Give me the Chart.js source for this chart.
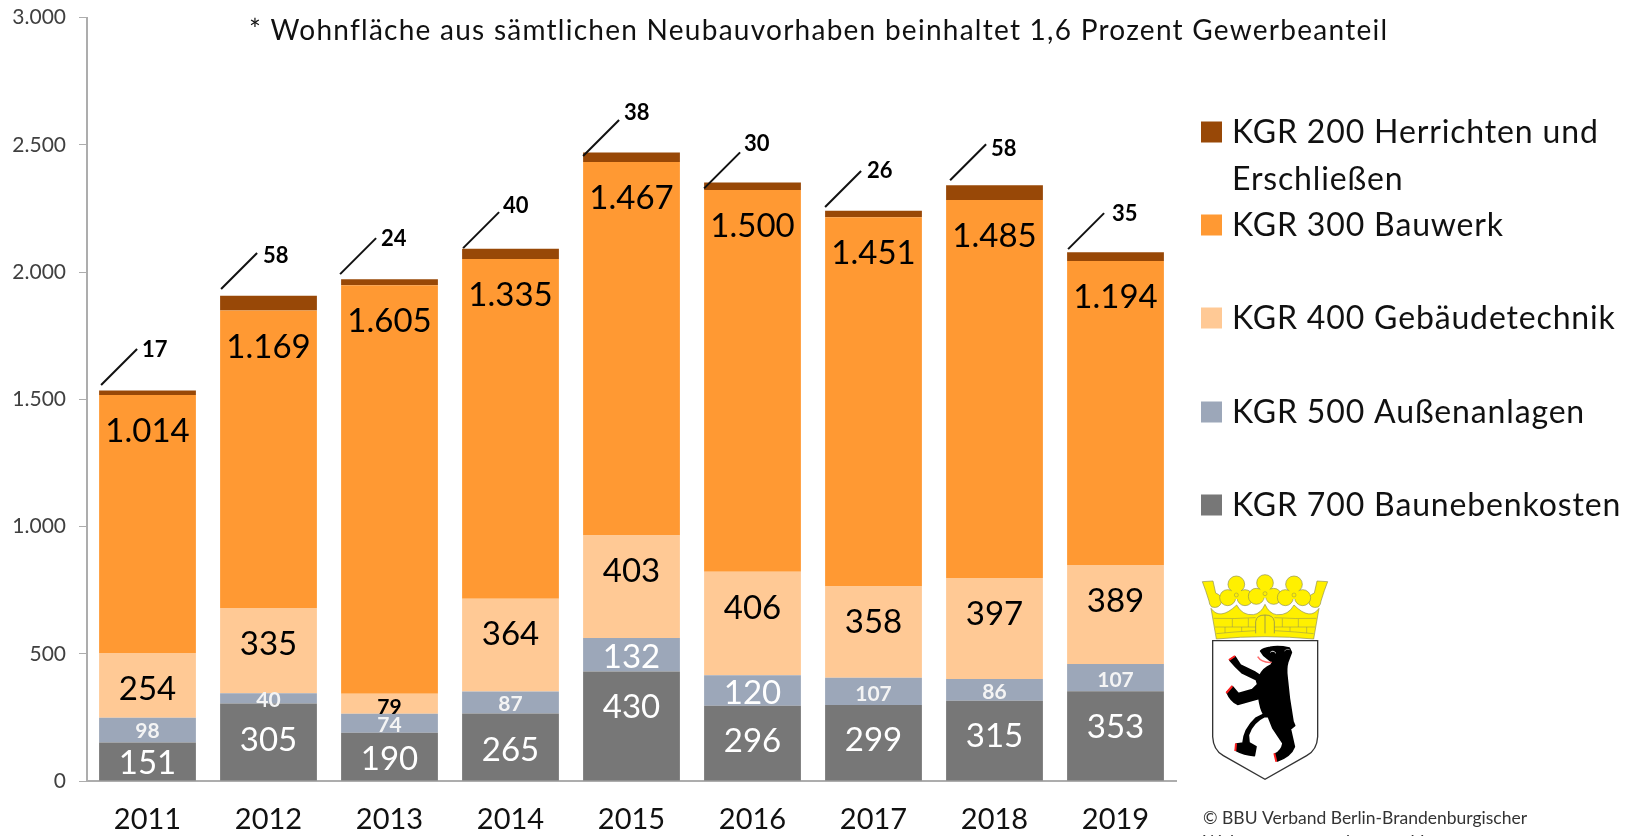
<!DOCTYPE html>
<html lang="de"><head><meta charset="utf-8">
<style>
html,body{margin:0;padding:0;background:#fff;overflow:hidden;width:1636px;height:836px}
#wrap{position:relative;width:1636px;height:836px}
canvas{display:block}
#arms{position:absolute;left:1195px;top:565px;filter:blur(.35px)}
</style>
<script src="https://cdn.jsdelivr.net/npm/chart.js@4"></script>
</head><body><div id="wrap"><canvas id="c" width="1636" height="836"></canvas>
<svg id="arms" width="150" height="220" viewBox="0 0 450 660" xmlns="http://www.w3.org/2000/svg">
<defs><g id="fl"><circle cx="0" cy="-30" r="25"/><circle cx="-26" cy="10" r="24"/><circle cx="26" cy="10" r="24"/><path d="M-14 -14 H14 V14 H-14Z" stroke="none"/><circle cx="0" cy="2" r="6" fill="none" stroke-width="1.5"/></g></defs>
<g stroke="#8f8f55" stroke-width="2" fill="#FFF000">
<path d="M22 50 L54 48 L62 84 Q82 92 80 110 Q74 132 50 126 Q42 118 42 108 Q32 75 22 50Z"/>
<path d="M398 50 L366 48 L358 84 Q338 92 340 110 Q346 132 370 126 Q378 118 378 108 Q388 75 398 50Z"/>
<use href="#fl" x="124" y="88"/><use href="#fl" x="210" y="84"/><use href="#fl" x="297" y="88"/>
<path d="M48 130 Q75 168 125 120 Q142 152 175 149 Q198 146 210 118 Q222 146 245 149 Q280 152 297 120 Q345 168 372 130 L356 222 Q210 208 64 222Z"/>
<path d="M56 160 Q120 162 182 158 M238 158 Q300 162 364 160 M60 186 H182 M238 186 H360 M64 206 Q120 200 182 197 M238 197 Q300 200 356 206 M112 162 V186 M160 160 V186 M90 186 V204 M140 186 V199 M262 160 V186 M310 162 V186 M285 186 V199 M335 186 V204" fill="none" stroke-width="1.6"/>
<path d="M182 205 V170 Q184 150 210 150 Q236 150 238 170 V205 M210 150 V205" fill="none" stroke-width="2.5"/>
</g>
<path d="M53 227 H368 V515 Q366 555 335 572 L210 643 L85 572 Q55 555 53 515Z" fill="#fff" stroke="#333" stroke-width="4"/>
<path fill="#000" stroke="#000" stroke-width="5" stroke-linejoin="round" d="M197 258 Q205 250 225 247 Q250 242 283 249 L289 262 Q283 278 278 292 Q273 310 276 335 L283 400 L294 470 L299 482 L286 492 L298 545 Q288 573 247 588 L240 567 Q260 558 264 535 L234 490 L220 455 L210 454 Q172 472 160 510 L162 533 L183 545 L178 572 Q147 570 122 556 L124 537 L144 534 Q147 492 182 460 L206 448 Q196 430 192 400 L128 418 Q107 408 96 382 L112 365 L130 386 L172 374 L188 358 L184 344 L142 324 Q120 305 104 285 L120 275 L136 300 L178 320 L195 331 Q205 310 228 300 L232 292 L207 272Z"/>
<path d="M102 285 L120 273 M94 384 L112 363 M121 558 L123 535 M244 590 L238 565" stroke="#ff2020" stroke-width="6" fill="none"/>
<path d="M188 275 Q200 294 230 292" stroke="#ff6a6a" stroke-width="4.5" fill="none"/>
<path d="M226 262 Q234 254 243 265" stroke="#ddd" stroke-width="3" fill="none"/>
<path d="M268 258 Q275 250 284 254" stroke="#999" stroke-width="2.5" fill="none"/>
</svg>
</div>
<script>
const categories=["2011","2012","2013","2014","2015","2016","2017","2018","2019"];
const kgr700=[151,305,190,265,430,296,299,315,353];
const kgr500=[98,40,74,87,132,120,107,86,107];
const kgr400=[254,335,79,364,403,406,358,397,389];
const kgr300=[1014,1169,1605,1335,1467,1500,1451,1485,1194];
const kgr200=[17,58,24,40,38,30,26,58,35];
const yTickStep=500;
const yMax=3000;
const titleText="* Wohnfläche aus sämtlichen Neubauvorhaben beinhaltet 1,6 Prozent Gewerbeanteil";
const sourceLines=["© BBU Verband Berlin-Brandenburgischer","Wohnungsunternehmen e. V."];
const legendEntries=[
 {ds:4,lines:["KGR 200 Herrichten und","Erschließen"],y:132},
 {ds:3,lines:["KGR 300 Bauwerk"],y:225},
 {ds:2,lines:["KGR 400 Gebäudetechnik"],y:318},
 {ds:1,lines:["KGR 500 Außenanlagen"],y:412},
 {ds:0,lines:["KGR 700 Baunebenkosten"],y:505}
];
// manual label placement of the original slide, in pixels relative to the segment centre
const labelNudge=[
 [2,-2,3,3,-19,-2,-2,-4,-8],
 [1.5,2,2,2,3,3,3,2,3],
 [4,-6,3,-11,-15,-15.5,-9.5,-14,-13.5]
];
const leaderDx=[2,1,-1,1,0,0,0,4,1];
const leaderDy=[-5.6,-6.7,-5,-0.7,3.6,6,-3.7,-5,-3];
const leaderLabelDx=[5,6,5,4,5,4,6,5,8];
const leaderLabelDy=[1,2.7,1,-6,-7,-9,0,5,1];
const FONT='Lato, Carlito, sans-serif';
const deNum=v=>String(v).replace(/\B(?=(\d{3})+$)/g,'.');
function text(ctx,s,x,y,font,color,align,spacing){
  ctx.font=font;ctx.fillStyle=color;ctx.textAlign=align||'left';ctx.textBaseline='middle';
  ctx.letterSpacing=(spacing||0)+'px';ctx.fillText(s,x,y);ctx.letterSpacing='0px';
}
const annot={id:'annot',afterDatasetsDraw(chart){
  const ctx=chart.ctx;ctx.save();
  [0,1,2,3].forEach(d=>{
    const meta=chart.getDatasetMeta(d);
    chart.data.datasets[d].data.forEach((v,i)=>{
      const el=meta.data[i];
      const small=v<=107;
      const col=d<2?(small?'#f4f4f4':'#ffffff'):'#000';
      const f=small?'bold 21px '+FONT:'33px '+FONT;
      const y=d===3?el.y+36.5:(el.y+el.base)/2+labelNudge[d][i];
      text(ctx,deNum(v),el.x,y,f,col,'center');
    });
  });
  const m=chart.getDatasetMeta(4);
  chart.data.datasets[4].data.forEach((v,i)=>{
    const el=m.data[i];
    const x0=el.x-el.width/2+leaderDx[i],y0=el.y+leaderDy[i];
    const x1=x0+36,y1=y0-36;
    ctx.beginPath();ctx.moveTo(x0,y0);ctx.lineTo(x1,y1);
    ctx.strokeStyle='#111';ctx.lineWidth=2;ctx.stroke();
    text(ctx,deNum(v),x1+leaderLabelDx[i],y1+leaderLabelDy[i],'bold 22px '+FONT,'#000','left');
  });
  text(ctx,titleText,249,31,'28px '+FONT,'#111','left',1.26);
  legendEntries.forEach(e=>{
    const ds=chart.data.datasets[e.ds];
    ctx.fillStyle=ds.backgroundColor;
    ctx.fillRect(1201,e.y-10.5,21,21);
    e.lines.forEach((l,k)=>text(ctx,l,1232,e.y+1+k*47,'32px '+FONT,'#111','left',0.85));
  });
  sourceLines.forEach((l,k)=>text(ctx,l,1203,818+k*24,'17.5px '+FONT,'#333','left'));
  ctx.restore();
}};
new Chart(document.getElementById('c'),{
  type:'bar',
  data:{labels:categories,datasets:[
    {label:"KGR 700 Baunebenkosten",data:kgr700,backgroundColor:'#777777'},
    {label:"KGR 500 Außenanlagen",data:kgr500,backgroundColor:'#9CA7B9'},
    {label:"KGR 400 Gebäudetechnik",data:kgr400,backgroundColor:'#FFC995'},
    {label:"KGR 300 Bauwerk",data:kgr300,backgroundColor:'#FF9933'},
    {label:"KGR 200 Herrichten und Erschließen",data:kgr200,backgroundColor:'#984807'}
  ]},
  options:{
    responsive:false,animation:false,
    layout:{padding:{left:0,right:460,top:17.5,bottom:0}},
    plugins:{legend:{display:false},title:{display:false},tooltip:{enabled:false}},
    datasets:{bar:{categoryPercentage:1,barPercentage:0.8,borderWidth:0}},
    scales:{
      x:{stacked:true,
        grid:{display:true,drawOnChartArea:false,drawTicks:false,color:'transparent'},
        border:{display:true,color:'#ADADAD',width:2},
        ticks:{color:'#111',font:{family:FONT,size:29},padding:21,maxRotation:0},
        afterFit(s){s.height=55;s.paddingLeft=0;s.paddingRight=0;}},
      y:{stacked:true,min:0,max:yMax,
        grid:{display:true,drawOnChartArea:false,color:'#ADADAD',tickLength:8,lineWidth:1},
        border:{display:true,color:'#ADADAD',width:2},
        ticks:{stepSize:yTickStep,color:'#404040',font:{family:FONT,size:21},padding:13,
          callback:v=>deNum(v)},
        afterFit(s){s.width=87;s.paddingTop=0;s.paddingBottom=0;}}
    }
  },
  plugins:[annot]
});
</script></body></html>
